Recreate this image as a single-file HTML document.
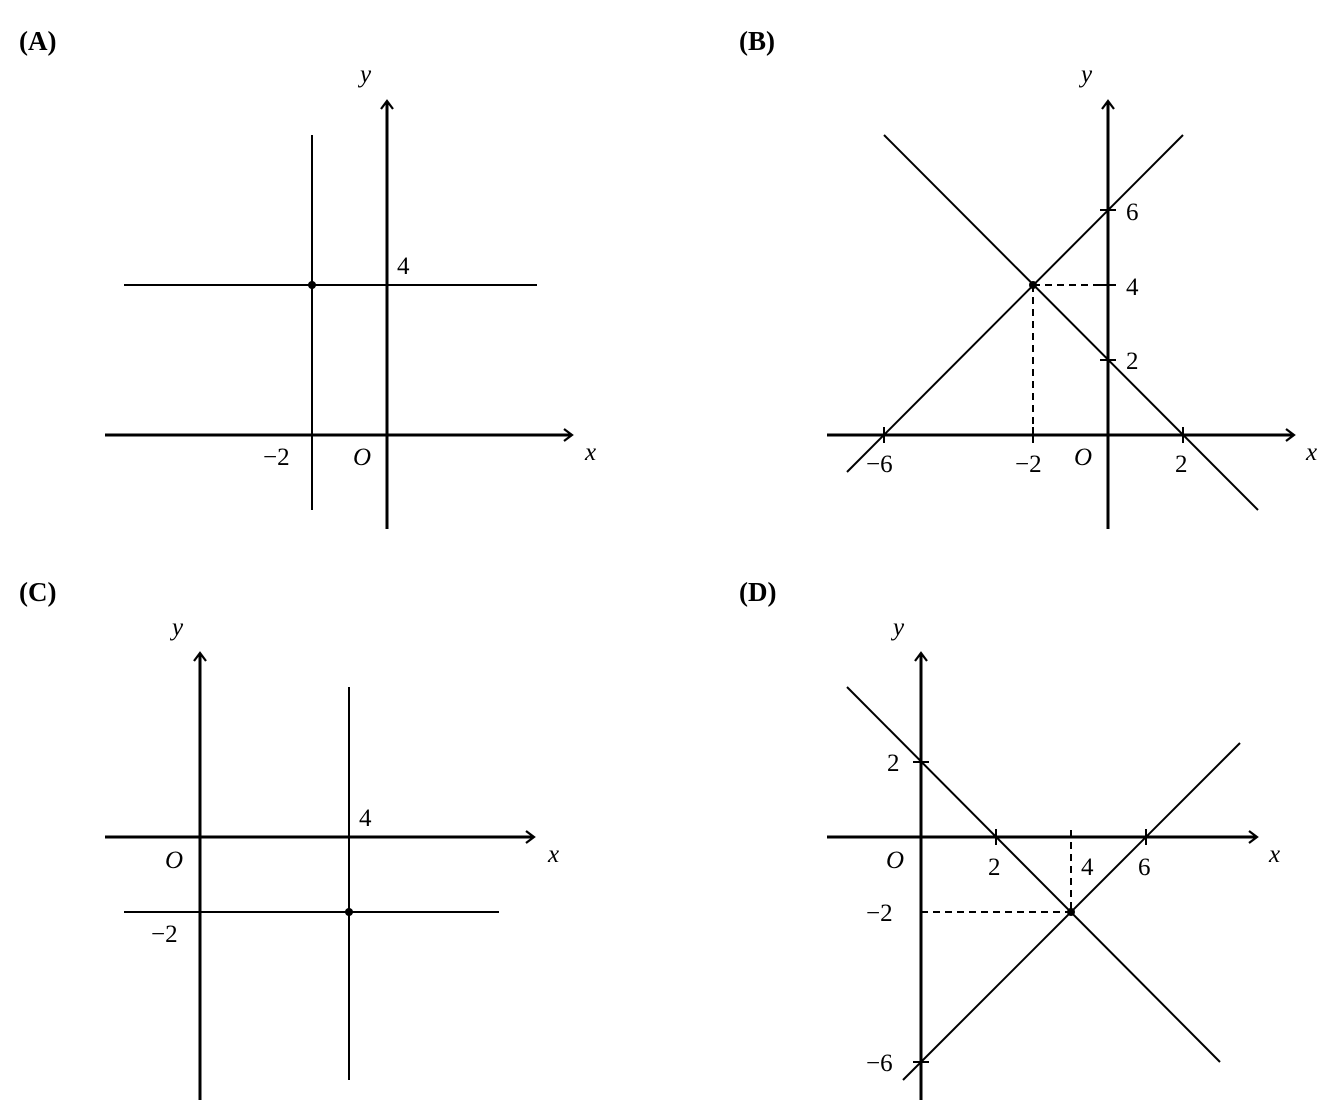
<!DOCTYPE html>
<html><head><style>body{margin:0;background:#fff}svg{display:block}text{font-family:"Liberation Serif",serif;font-size:25px;fill:#000}.i{font-style:italic}.b{font-weight:bold;font-size:27px}</style></head><body>
<svg width="1340" height="1120" viewBox="0 0 1340 1120">
<defs><marker id="ar" markerWidth="14" markerHeight="14" refX="10" refY="7" orient="auto" markerUnits="userSpaceOnUse"><path d="M2,1 L10,7 L2,13" fill="none" stroke="#000" stroke-width="2.2"/></marker></defs>
<g stroke="#000" fill="none">
<line x1="105" y1="435" x2="572" y2="435" stroke-width="3" marker-end="url(#ar)"/>
<line x1="387" y1="529" x2="387" y2="101" stroke-width="3" marker-end="url(#ar)"/>
<line x1="312" y1="135" x2="312" y2="510" stroke-width="2"/>
<line x1="124" y1="285" x2="537" y2="285" stroke-width="2"/>
<line x1="827" y1="435" x2="1294" y2="435" stroke-width="3" marker-end="url(#ar)"/>
<line x1="1108" y1="529" x2="1108" y2="101" stroke-width="3" marker-end="url(#ar)"/>
<line x1="847" y1="472" x2="1183" y2="135" stroke-width="2"/>
<line x1="884" y1="135" x2="1258" y2="510" stroke-width="2"/>
<path d="M1033,285 H1108 M1033,285 V435" stroke-width="2" stroke-dasharray="7,5"/>
<path d="M884,427 V443 M1033,427 V443 M1183,427 V443 M1100,210 H1116 M1100,285 H1116 M1100,360 H1116" stroke-width="2"/>
<line x1="105" y1="837" x2="534" y2="837" stroke-width="3" marker-end="url(#ar)"/>
<line x1="200" y1="1100" x2="200" y2="653" stroke-width="3" marker-end="url(#ar)"/>
<line x1="349" y1="687" x2="349" y2="1080" stroke-width="2"/>
<line x1="124" y1="912" x2="499" y2="912" stroke-width="2"/>
<line x1="827" y1="837" x2="1257" y2="837" stroke-width="3" marker-end="url(#ar)"/>
<line x1="921" y1="1100" x2="921" y2="653" stroke-width="3" marker-end="url(#ar)"/>
<line x1="847" y1="687" x2="1220" y2="1062" stroke-width="2"/>
<line x1="903" y1="1080" x2="1240" y2="743" stroke-width="2"/>
<path d="M921,912 H1071 M1071,830 V912" stroke-width="2" stroke-dasharray="7,5"/>
<path d="M996,829 V845 M1146,829 V845 M913,762 H929 M913,1062 H929" stroke-width="2"/>
</g>
<g fill="#000"><circle cx="312" cy="285" r="4"/><circle cx="1033" cy="285" r="4"/><circle cx="349" cy="912" r="4"/><circle cx="1071" cy="912" r="4"/></g>
<text x="19" y="50" class="b">(A)</text><text x="739" y="50" class="b">(B)</text>
<text x="19" y="601" class="b">(C)</text><text x="739" y="601" class="b">(D)</text>
<text x="360" y="82" class="i">y</text><text x="585" y="460" class="i">x</text><text x="353" y="465" class="i">O</text>
<text x="397" y="274">4</text><text x="263" y="465">−2</text>
<text x="1081" y="82" class="i">y</text><text x="1306" y="460" class="i">x</text><text x="1074" y="465" class="i">O</text>
<text x="866" y="472">−6</text><text x="1015" y="472">−2</text><text x="1175" y="472">2</text>
<text x="1126" y="220">6</text><text x="1126" y="295">4</text><text x="1126" y="369">2</text>
<text x="172" y="635" class="i">y</text><text x="548" y="862" class="i">x</text><text x="165" y="868" class="i">O</text>
<text x="359" y="826">4</text><text x="151" y="942">−2</text>
<text x="893" y="635" class="i">y</text><text x="1269" y="862" class="i">x</text><text x="886" y="868" class="i">O</text>
<text x="988" y="875">2</text><text x="1081" y="875">4</text><text x="1138" y="875">6</text>
<text x="887" y="771">2</text><text x="866" y="921">−2</text><text x="866" y="1071">−6</text>
</svg></body></html>
